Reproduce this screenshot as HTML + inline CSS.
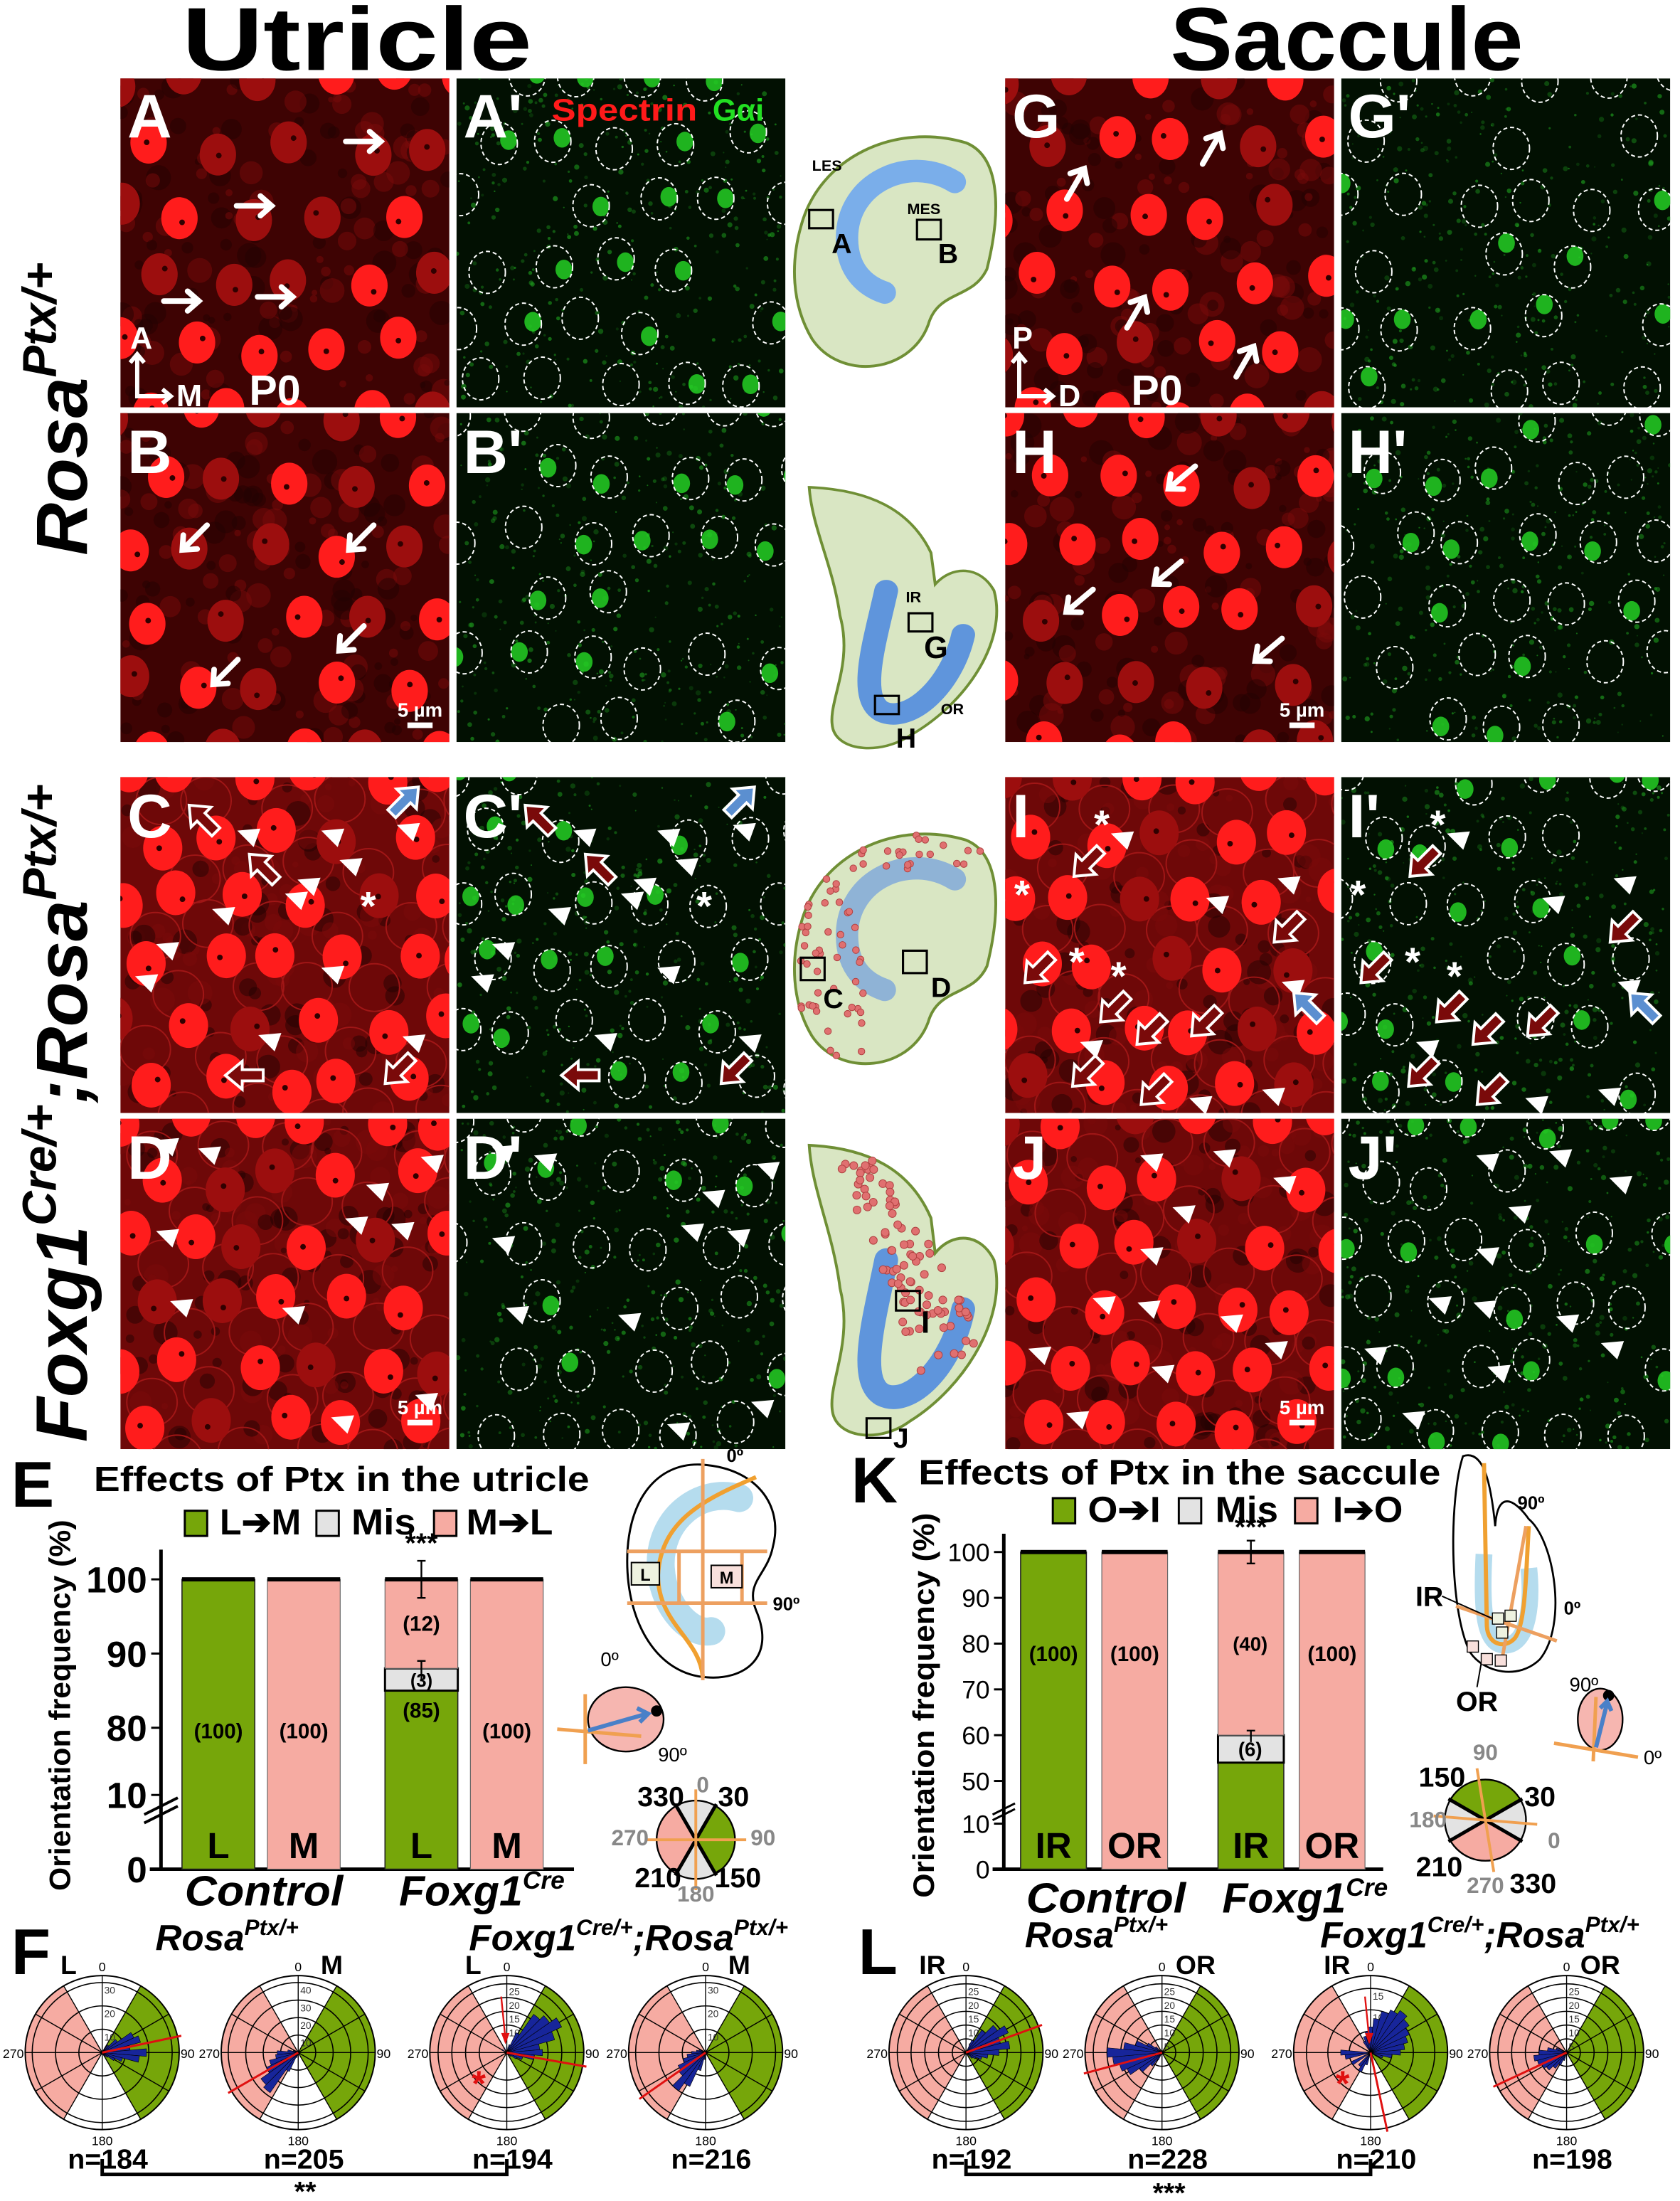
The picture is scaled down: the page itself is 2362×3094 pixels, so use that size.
<!DOCTYPE html>
<html><head><meta charset="utf-8"><title>Ptx figure</title>
<style>
html,body{margin:0;padding:0;background:#fff;}
svg{display:block;}
text{font-family:"Liberation Sans",sans-serif;}
</style></head>
<body>
<svg id="fig" xmlns="http://www.w3.org/2000/svg" width="2362" height="3094" viewBox="0 0 1200 1572" preserveAspectRatio="none">
<rect x="0" y="0" width="1200" height="1572" fill="#fff"/>
<text x="130" y="50" font-size="64" font-weight="bold" textLength="250" lengthAdjust="spacingAndGlyphs">Utricle</text>
<text x="836" y="50" font-size="64" font-weight="bold" textLength="252" lengthAdjust="spacingAndGlyphs">Saccule</text>
<text transform="translate(62,292) rotate(-90)" text-anchor="middle" font-size="52" font-weight="bold" font-style="italic">Rosa<tspan font-size="34" dy="-22">Ptx/+</tspan></text>
<text transform="translate(62,795) rotate(-90)" text-anchor="middle" font-size="52" font-weight="bold" font-style="italic" textLength="470" lengthAdjust="spacingAndGlyphs">Foxg1<tspan font-size="34" dy="-22">Cre/+</tspan><tspan dy="22">;Rosa</tspan><tspan font-size="34" dy="-22">Ptx/+</tspan></text>
<g id="micro"></g>
<g id="schem"></g>
<g id="chartE"></g>
<g id="chartK"></g>
<g id="roses"></g>
</svg>
<script>
// ---------- chart data ----------
const uCats = ['L','M','L','M'];
const uGreen = [100, 0, 85, 0];
const uMis = [0, 0, 3, 0];
const uPink = [0, 100, 12, 100];
const uLabels = ['(100)','(100)','(85)','(100)'];
const uMidLabels = ['', '', '(12)', ''];
const uMisLabels = ['', '', '(3)', ''];
const uTicks = [0, 10, 80, 90, 100];
const sCats = ['IR','OR','IR','OR'];
const sGreen = [100, 0, 54, 0];
const sMis = [0, 0, 6, 0];
const sPink = [0, 100, 40, 100];
const sLabels = ['(100)','(100)','','(100)'];
const sTicks = [0, 10, 50, 60, 70, 80, 90, 100];
// rose plots: bin angles (deg, compass) and counts
const roseU1Bins = [40,50,60,70,80,90,100,110,120,130,140];
const roseU1Counts = [4,8,15,17,12,19,16,9,6,3,2];
const roseU2Bins = [200,210,220,230,240,250,260,270,280,290];
const roseU2Counts = [3,12,28,26,20,17,13,12,6,3];
const roseU3Bins = [0,20,30,40,50,60,70,80,90,100,110,120,130,300,330];
const roseU3Counts = [2,3,8,17,19,22,18,12,13,10,6,4,2,2,2];
const roseU4Bins = [190,200,210,220,230,240,250,260,270,280,290];
const roseU4Counts = [3,8,16,20,14,13,10,8,6,4,3];
const roseS1Bins = [30,40,50,60,70,80,90,100,110,120,130];
const roseS1Counts = [5,10,14,17,13,16,12,8,6,4,3];
const roseS2Bins = [210,220,230,240,250,260,270,280,290,300,310];
const roseS2Counts = [3,6,10,14,16,18,20,14,10,6,3];
const roseS3Bins = [0,10,20,30,40,50,60,70,80,90,100,110,200,210,220,240,260,270,330,340,350];
const roseS3Counts = [6,8,10,11,12,11,10,9,8,7,5,3,3,5,4,5,6,7,3,4,5];
const roseS4Bins = [200,210,220,230,240,250,260,270,280,290];
const roseS4Counts = [3,5,7,9,10,11,12,10,7,4];
const roseMeans = [78, 240, 100, 235, 70, 255, 168, 245];

// ---------- helpers ----------
const NS='http://www.w3.org/2000/svg';
function mk(tag, attrs, parent, name, inter){
  const el=document.createElementNS(NS,tag);
  for(const k in attrs) el.setAttribute(k, attrs[k]);
  
  
  parent.appendChild(el);
  return el;
}
function txt(parent, x, y, s, size, opts, name){
  const a=Object.assign({x:x,y:y,'font-size':size},opts||{});
  const t=mk('text',a,parent,name,false);
  t.textContent=s;
  return t;
}
let seed=12345;
function rnd(){seed=(seed*16807)%2147483647;return seed/2147483647;}

const micro=document.getElementById('micro');
const schem=document.getElementById('schem');
const defs=mk('defs',{},document.getElementById('fig'),'defs',false);

function arrow(g,x,y,ang,col,hollow){
  const gr=mk('g',{transform:'translate('+x+','+y+') rotate('+ang+')'},g,'arrow',false);
  if(hollow){
    mk('path',{d:'M-13,-4 L2,-4 L2,-10 L14,0 L2,10 L2,4 L-13,4 Z',fill:col,stroke:'#fff','stroke-width':2},gr,'arrow-shape',false);
  } else {
    mk('path',{d:'M-14,0 L10,0 M3,-7 L11,0 L3,7',fill:'none',stroke:col,'stroke-width':4,'stroke-linecap':'round'},gr,'arrow-shape',false);
  }
}
function tri(g,x,y,ang){
  mk('path',{d:'M-7,-7 L8,0 L-7,7 Z',fill:'#fff',transform:'translate('+x+','+y+') rotate('+ang+')'},g,'arrowhead',false);
}
function star(g,x,y,col,size){
  txt(g,x,y+size*0.55,'*',size*1.6,{fill:col,'font-weight':'bold','text-anchor':'middle'},'asterisk');
}

let clipId=0;
function panel(x,y,w,h){
  clipId++;
  const cp=mk('clipPath',{id:'c'+clipId},defs,'clip',false);
  mk('rect',{x:x,y:y,width:w,height:h},cp,'clip-rect',false);
  return mk('g',{'clip-path':'url(#c'+clipId+')'},micro,'panel',false);
}
function redPanel(x,y,w,h,mutant,name){
  const g=panel(x,y,w,h);
  
  mk('rect',{x:x,y:y,width:w,height:h,fill:mutant?'#6e0808':'#3e0303'},g,'panel-bg',false);
  for(let i=0;i<160;i++){
    mk('circle',{cx:x+rnd()*w,cy:y+rnd()*h,r:2+rnd()*7,fill:rnd()<0.5?'#7a0a0a':'#220101',opacity:0.5},g,'texture',false);
  }
  const sx=mutant?46:50, sy=mutant?44:48;
  for(let r=0;r*sy<h+sy;r++){
    for(let c=0;c*sx<w+sx;c++){
      const cx=x+c*sx+(r%2)*sx/2+(rnd()-0.5)*16;
      const cy=y+r*sy+(rnd()-0.5)*14;
      if(mutant){
        mk('ellipse',{cx:cx+sx/2,cy:cy+sy/2,rx:18,ry:17,fill:'none',stroke:'#a01616','stroke-width':1},g,'cell-outline',false);
      }
      const dim=rnd()<(mutant?0.2:0.4);
      mk('ellipse',{cx:cx,cy:cy,rx:mutant?14:13,ry:mutant?16:15,fill:dim?'#9c0e0e':'#ff1c1c'},g,'hair-cell',false);
      mk('circle',{cx:cx+(rnd()-0.5)*10,cy:cy+(rnd()-0.5)*10,r:2,fill:'#300000'},g,'kinocilium',false);
    }
  }
  return g;
}
function greenPanel(x,y,w,h,dir,name){
  const g=panel(x,y,w,h);
  
  mk('rect',{x:x,y:y,width:w,height:h,fill:'#021002'},g,'panel-bg',false);
  for(let i=0;i<320;i++){
    mk('circle',{cx:x+rnd()*w,cy:y+rnd()*h,r:0.5+rnd()*1.4,fill:'#1fa01f',opacity:0.2+rnd()*0.45},g,'texture',false);
  }
  const sx=46, sy=44;
  for(let r=0;r*sy<h+sy;r++){
    for(let c=0;c*sx<w+sx;c++){
      if(rnd()<0.2) continue;
      const cx=x+c*sx+(r%2)*sx/2+(rnd()-0.5)*16;
      const cy=y+r*sy+(rnd()-0.5)*14;
      const d=(dir===null)?rnd()*360:dir+(rnd()-0.5)*40;
      const dx=Math.sin(d*Math.PI/180)*7, dy=-Math.cos(d*Math.PI/180)*8;
      if(rnd()<0.6) mk('ellipse',{cx:cx+dx,cy:cy+dy,rx:6,ry:7,fill:'#24d024',opacity:0.85},g,'gai-crescent',false);
      mk('ellipse',{cx:cx,cy:cy,rx:13,ry:15,fill:'none',stroke:'#fff','stroke-width':1,'stroke-dasharray':'3 2'},g,'cell-outline',false);
    }
  }
  return g;
}
function letter(s,x,y){ txt(micro,x,y,s,44,{fill:'#fff','font-weight':'bold'},'panel-letter-'+s.replace("'",'p').toLowerCase()); }
function scalebar(x,y){
  txt(micro,x,y,'5 µm',14,{fill:'#fff','font-weight':'bold','text-anchor':'middle'},'scale-bar-label');
  mk('rect',{x:x-9,y:y+4,width:18,height:4,fill:'#fff'},micro,'scale-bar',false);
}

const LX=86, LGX=326, RX=718, RGX=958, PW=235;
const rows=[[56,235],[295,235],[555,240],[799,236]];
redPanel(LX,rows[0][0],PW,rows[0][1],false,'panel-a');
greenPanel(LGX,rows[0][0],PW,rows[0][1],90,'panel-a-prime');
redPanel(LX,rows[1][0],PW,rows[1][1],false,'panel-b');
greenPanel(LGX,rows[1][0],PW,rows[1][1],250,'panel-b-prime');
redPanel(LX,rows[2][0],PW,rows[2][1],true,'panel-c');
greenPanel(LGX,rows[2][0],PW,rows[2][1],null,'panel-c-prime');
redPanel(LX,rows[3][0],PW,rows[3][1],true,'panel-d');
greenPanel(LGX,rows[3][0],PW,rows[3][1],null,'panel-d-prime');
redPanel(RX,rows[0][0],PW,rows[0][1],false,'panel-g');
greenPanel(RGX,rows[0][0],PW,rows[0][1],20,'panel-g-prime');
redPanel(RX,rows[1][0],PW,rows[1][1],false,'panel-h');
greenPanel(RGX,rows[1][0],PW,rows[1][1],220,'panel-h-prime');
redPanel(RX,rows[2][0],PW,rows[2][1],true,'panel-i');
greenPanel(RGX,rows[2][0],PW,rows[2][1],null,'panel-i-prime');
redPanel(RX,rows[3][0],PW,rows[3][1],true,'panel-j');
greenPanel(RGX,rows[3][0],PW,rows[3][1],180,'panel-j-prime');

[[261,101],[183,147],[131,215],[198,212]].forEach(p=>arrow(micro,p[0],p[1],0,'#fff',false));
[[138,385],[257,385],[160,481],[250,457]].forEach(p=>arrow(micro,p[0],p[1],135,'#fff',false));
[[866,105],[769,130],[812,222],[890,257]].forEach(p=>arrow(micro,p[0],p[1],-60,'#fff',false));
[[843,342],[770,430],[833,410],[905,465]].forEach(p=>arrow(micro,p[0],p[1],140,'#fff',false));
const cHeads=[[177,596],[237,596],[291,592],[250,617],[220,631],[211,641],[159,652],[119,677],[104,700],[237,694],[192,742],[295,743]];
cHeads.forEach(p=>{tri(micro,p[0],p[1],200);tri(micro,p[0]+240,p[1],200);});
[[145,585,-135],[188,620,-135],[175,768,180],[285,764,135]].forEach(p=>{arrow(micro,p[0],p[1],p[2],'#7a0a0a',true);arrow(micro,p[0]+240,p[1],p[2],'#7a0a0a',true);});
arrow(micro,289,572,-45,'#5b8fd0',true); arrow(micro,529,572,-45,'#5b8fd0',true);
star(micro,263,647,'#fff',18); star(micro,503,647,'#fff',18);
const dHeads=[[119,817],[149,823],[119,882],[269,849],[254,873],[287,877],[308,829],[129,932],[209,937],[244,1015],[304,999]];
dHeads.forEach(p=>{tri(micro,p[0],p[1],200);tri(micro,p[0]+240,p[1]+5,200);});
const iHeads=[[801,598],[920,630],[869,644],[923,704],[779,747],[857,787],[909,781]];
iHeads.forEach(p=>{tri(micro,p[0],p[1],200);tri(micro,p[0]+240,p[1],200);});
[[777,616],[920,663],[742,692],[796,720],[822,736],[861,730],[776,766],[825,779]].forEach(p=>{arrow(micro,p[0],p[1],135,'#7a0a0a',true);arrow(micro,p[0]+240,p[1],135,'#7a0a0a',true);});
arrow(micro,934,719,-135,'#5b8fd0',true); arrow(micro,1174,719,-135,'#5b8fd0',true);
[[787,589],[730,639],[769,687],[799,697]].forEach(p=>{star(micro,p[0],p[1],'#fff',18);star(micro,p[0]+240,p[1],'#fff',18);});
const jHeads=[[822,828],[874,825],[917,844],[845,865],[822,895],[788,930],[820,933],[879,943],[911,962],[742,966],[830,979],[769,1012]];
jHeads.forEach(p=>{tri(micro,p[0],p[1],200);tri(micro,p[0]+240,p[1],200);});

letter('A',91,98); letter("A'",331,98); letter('B',91,338); letter("B'",331,338);
letter('C',91,598); letter("C'",331,598); letter('D',91,842); letter("D'",331,842);
letter('G',723,98); letter("G'",963,98); letter('H',723,338); letter("H'",963,338);
letter('I',723,598); letter("I'",963,598); letter('J',723,842); letter("J'",963,842);
txt(micro,394,86,'Spectrin',22,{fill:'#ff1a1a','font-weight':'bold',textLength:104,lengthAdjust:'spacingAndGlyphs'},'legend-spectrin');
txt(micro,509,86,'Gαi',22,{fill:'#22e022','font-weight':'bold'},'legend-gai');
function axes(x,y,a,b){
  mk('path',{d:'M'+x+','+(y-30)+' L'+x+','+y+' L'+(x+24)+','+y+' M'+(x-5)+','+(y-24)+' L'+x+','+(y-30)+' L'+(x+5)+','+(y-24)+' M'+(x+18)+','+(y-5)+' L'+(x+24)+','+y+' L'+(x+18)+','+(y+5),fill:'none',stroke:'#fff','stroke-width':3},micro,'orientation-axes',false);
  txt(micro,x-5,y-34,a,22,{fill:'#fff','font-weight':'bold'},'axis-letter');
  txt(micro,x+28,y+7,b,22,{fill:'#fff','font-weight':'bold'},'axis-letter');
}
axes(98,283,'A','M'); txt(micro,178,289,'P0',30,{fill:'#fff','font-weight':'bold'},'age-label');
axes(728,283,'P','D'); txt(micro,808,289,'P0',30,{fill:'#fff','font-weight':'bold'},'age-label');
scalebar(300,512); scalebar(300,1010); scalebar(930,512); scalebar(930,1010);
[[LX,291,PW*2+5,4],[RX,291,PW*2+5,4],[LX,795,PW*2+5,4],[RX,795,PW*2+5,4]].forEach(r=>mk('rect',{x:r[0],y:r[1],width:r[2],height:r[3],fill:'#fff'},micro,'separator',false));
[[LX+PW,56,5,980],[RX+PW,56,5,980]].forEach(r=>mk('rect',{x:r[0],y:r[1],width:r[2],height:r[3],fill:'#fff'},micro,'separator',false));

// ---------- schematics ----------
const utrPath='M572,660 C585,610 640,585 690,600 C715,610 715,650 705,690 C695,712 670,705 663,730 C650,765 600,770 580,740 C565,715 565,685 572,660 Z';
const sacPath='M578,818 C620,820 650,835 665,870 L668,895 C680,880 700,880 710,900 C720,940 690,990 650,1015 C630,1030 600,1028 595,1010 C590,990 610,960 600,920 C595,880 580,850 578,818 Z';
function utr(dy,blue,name){
  const g=mk('g',{transform:'translate(0,'+dy+')'},schem,name,false);
  const p=mk('path',{d:utrPath,fill:'#d9e6c3',stroke:'#6f8f35','stroke-width':2},g,'utricle-outline',false);
  mk('path',{d:'M682,628 C650,608 605,628 605,668 C605,693 620,703 632,707',fill:'none',stroke:blue,'stroke-width':16,'stroke-linecap':'round'},g,'striola',false);
  g._outline=p;
  return g;
}
function sac(dy,sy,name){
  const g=mk('g',{transform:'translate(0,'+dy+') translate(0,818) scale(1,'+sy+') translate(0,-818)'},schem,name,false);
  const p=mk('path',{d:sacPath,fill:'#d9e6c3',stroke:'#6f8f35','stroke-width':2},g,'saccule-outline',false);
  mk('path',{d:'M633,900 C625,940 612,985 630,996 C650,1006 680,975 688,935',fill:'none',stroke:'#5f95dc','stroke-width':17,'stroke-linecap':'round'},g,'striola',false);
  g._outline=p;
  return g;
}
function box(x,y,w,h){mk('rect',{x:x,y:y,width:w,height:h,fill:'none',stroke:'#000','stroke-width':1.6},schem,'region-box',false);}
function lab(x,y,s,sz){txt(schem,x,y,s,sz,{'font-weight':'bold'},'region-label');}
function inside(path,x,y){
  try{ const pt=document.getElementById('fig').createSVGPoint(); pt.x=x; pt.y=y; return path.isPointInFill(pt); }catch(e){ return true; }
}
utr(-498,'#7aaeea','utricle-schematic');
lab(580,122,'LES',11); box(578,150,17,13); lab(594,181,'A',20); lab(648,153,'MES',11); box(655,157,17,14); lab(670,188,'B',20);
sac(-470,0.9,'saccule-schematic');
lab(647,430,'IR',11); box(649,438,17,13); lab(660,470,'G',22); box(625,497,17,13); lab(640,534,'H',20); lab(672,510,'OR',11);
const g3=utr(0,'#8fb3d6','utricle-mutant-schematic');
let placed=0, tries=0;
while(placed<70 && tries<2000){
  tries++;
  const t=rnd();
  const px=(t<0.35)?575+rnd()*130:572+Math.pow(rnd(),1.5)*45;
  const py=(t<0.35)?596+rnd()*25:615+rnd()*150;
  if(!inside(g3._outline,px,py)) continue;
  placed++;
  mk('circle',{cx:px,cy:py,r:2.4,fill:'#e07070',stroke:'#b04040','stroke-width':0.5},g3,'ectopic-cell',false);
}
box(572,684,17,16); lab(588,720,'C',20); box(645,679,17,16); lab(665,712,'D',20);
const g4=sac(0,1,'saccule-mutant-schematic');
placed=0; tries=0;
while(placed<90 && tries<3000){
  tries++;
  const py=822+rnd()*160; const base=595+(py-822)*0.4; const px=base+rnd()*(25+(py-822)*0.25);
  if(!inside(g4._outline,px,py)) continue;
  placed++;
  mk('circle',{cx:px,cy:py,r:2.8,fill:'#e07070',stroke:'#b04040','stroke-width':0.5},g4,'ectopic-cell',false);
}
box(640,922,17,14); lab(658,952,'I',22); box(619,1013,17,14); lab(638,1034,'J',20);

// ---------- bar charts ----------
function barChart(gid, cats, green, mis, pink, labels, ticks, yf, xs, bw, axisX, axisRight, tickFont, tickBold){
  const g=document.getElementById(gid);
  mk('line',{x1:axisX,y1:yf(104),x2:axisX,y2:yf(0),stroke:'#000','stroke-width':2.5},g,'y-axis',false);
  mk('line',{x1:axisX-8,y1:yf(0),x2:axisRight,y2:yf(0),stroke:'#000','stroke-width':2.5},g,'x-axis',false);
  ticks.forEach(t=>{
    mk('line',{x1:axisX-7,y1:yf(t),x2:axisX,y2:yf(t),stroke:'#000','stroke-width':1.5},g,'y-tick',false);
    txt(g,axisX-10,yf(t)+tickFont*0.36,String(t),tickFont,{'text-anchor':'end','font-weight':tickBold?'bold':'normal'},'y-tick-label');
  });
  cats.forEach((c,i)=>{
    const x=xs(i);
    const g1=green[i], m1=mis[i], p1=pink[i];
    if(g1>0) mk('rect',{x:x,y:yf(g1),width:bw,height:yf(0)-yf(g1),fill:'#76a60a',stroke:'#222','stroke-width':0.8},g,'bar-green-'+i,false);
    if(m1>0) mk('rect',{x:x,y:yf(g1+m1),width:bw,height:yf(g1)-yf(g1+m1),fill:'#e3e3e3',stroke:'#000','stroke-width':1.5},g,'bar-mis-'+i,false);
    if(p1>0) mk('rect',{x:x,y:yf(g1+m1+p1),width:bw,height:yf(g1+m1)-yf(g1+m1+p1),fill:'#f6aba2',stroke:'#666','stroke-width':0.6},g,'bar-pink-'+i,false);
    mk('rect',{x:x,y:yf(100)-1.5,width:bw,height:3,fill:'#000'},g,'bar-top-'+i,false);
    txt(g,x+bw/2,yf(0)-8,c,26,{'text-anchor':'middle','font-weight':'bold'},'bar-category-'+i);
    if(labels[i]) txt(g,x+bw/2,yf(m1>0?g1/2+40:78)+6,labels[i],15,{'text-anchor':'middle','font-weight':'bold'},'bar-value-'+i);
    if(m1>0){
      mk('path',{d:'M'+(x+bw/2)+','+yf(g1+m1+1)+' L'+(x+bw/2)+','+yf(g1+m1-1.5)+' M'+(x+bw/2-3)+','+yf(g1+m1+1)+' L'+(x+bw/2+3)+','+yf(g1+m1+1),stroke:'#000','stroke-width':1.2},g,'error-bar',false);
      mk('path',{d:'M'+(x+bw/2)+','+yf(102.5)+' L'+(x+bw/2)+','+yf(97.5)+' M'+(x+bw/2-3)+','+yf(102.5)+' L'+(x+bw/2+3)+','+yf(102.5)+' M'+(x+bw/2-3)+','+yf(97.5)+' L'+(x+bw/2+3)+','+yf(97.5),stroke:'#000','stroke-width':1.2},g,'error-bar',false);
      txt(g,x+bw/2,yf(104)+2,'***',20,{'text-anchor':'middle','font-weight':'bold'},'significance');
    }
  });
  return g;
}
function yU(v){ if(v<=10) return 1335-v*5.3; if(v>=80) return 1234-(v-80)*5.3; return 1282-(v-10)/70*48; }
function yS(v){ if(v<=10) return 1335-v*3.25; if(v>=50) return 1272-(v-50)*3.27; return 1302.5-(v-10)/40*30.5; }
const gE=barChart('chartE',uCats,uGreen,uMis,uPink,uLabels,uTicks,yU,i=>130+i*61+(i>=2?23:0),52,115,410,26,true);
uMidLabels.forEach((s,i)=>{ if(s) txt(gE,130+i*61+(i>=2?23:0)+26,yU(94)+5,s,15,{'text-anchor':'middle','font-weight':'bold'},'bar-pink-value'); });
uMisLabels.forEach((s,i)=>{ if(s) txt(gE,130+i*61+(i>=2?23:0)+26,yU(86.5)+5,s,13,{'text-anchor':'middle','font-weight':'bold'},'bar-mis-value'); });
mk('path',{d:'M103,1296 L127,1284 M103,1302 L127,1290',stroke:'#000','stroke-width':2},gE,'axis-break',false);
const gK=barChart('chartK',sCats,sGreen,sMis,sPink,sLabels,sTicks,yS,i=>729+i*58+(i>=2?25:0),47,717,988,18,false);
txt(gK,893,yS(57)+5,'(6)',14,{'text-anchor':'middle','font-weight':'bold'},'bar-mis-value');
txt(gK,893,yS(80)+5,'(40)',14,{'text-anchor':'middle','font-weight':'bold'},'bar-pink-value');
mk('path',{d:'M709,1296 L725,1288 M709,1300 L725,1292',stroke:'#000','stroke-width':1.5},gK,'axis-break',false);
txt(gE,8,1076,'E',46,{'font-weight':'bold'},'panel-letter-e');
txt(gE,67,1065,'Effects of Ptx in the utricle',25,{'font-weight':'bold',textLength:354,lengthAdjust:'spacingAndGlyphs'},'chart-title');
function legend(g,items,y){
  items.forEach(it=>{
    mk('rect',{x:it[0],y:y-17,width:16,height:18,fill:it[1],stroke:'#000','stroke-width':1.5},g,'legend-swatch',false);
    txt(g,it[2],y,it[3],26,{'font-weight':'bold',textLength:it[4],lengthAdjust:'spacingAndGlyphs'},'legend-entry');
  });
}
legend(gE,[[132,'#76a60a',157,'L➔M',58],[226,'#e3e3e3',251,'Mis',46],[310,'#f6aba2',333,'M➔L',62]],1096);
txt(gE,0,0,'Orientation frequency (%)',21,{'font-weight':'bold','text-anchor':'middle',transform:'translate(50,1218) rotate(-90)',textLength:265,lengthAdjust:'spacingAndGlyphs'},'y-axis-title');
txt(gE,132,1361,'Control',30,{'font-weight':'bold','font-style':'italic',textLength:113,lengthAdjust:'spacingAndGlyphs'},'group-label-control');
const fx=txt(gE,285,1361,'Foxg1',30,{'font-weight':'bold','font-style':'italic'},'group-label-foxg1');
const sup1=mk('tspan',{'font-size':18,dy:-12},fx,'superscript',false); sup1.textContent='Cre';

txt(gK,608,1073,'K',46,{'font-weight':'bold'},'panel-letter-k');
txt(gK,656,1060,'Effects of Ptx in the saccule',25,{'font-weight':'bold',textLength:373,lengthAdjust:'spacingAndGlyphs'},'chart-title');
legend(gK,[[752,'#76a60a',777,'O➔I',52],[842,'#e3e3e3',868,'Mis',45],[925,'#f6aba2',952,'I➔O',50]],1087);
txt(gK,0,0,'Orientation frequency (%)',21,{'font-weight':'bold','text-anchor':'middle',transform:'translate(667,1218) rotate(-90)',textLength:275,lengthAdjust:'spacingAndGlyphs'},'y-axis-title');
txt(gK,733,1366,'Control',30,{'font-weight':'bold','font-style':'italic',textLength:114,lengthAdjust:'spacingAndGlyphs'},'group-label-control');
const fx2=txt(gK,873,1366,'Foxg1',30,{'font-weight':'bold','font-style':'italic'},'group-label-foxg1');
const sup2=mk('tspan',{'font-size':18,dy:-12},fx2,'superscript',false); sup2.textContent='Cre';

// utricle schematic (E)
mk('path',{d:'M500,1046 C540,1048 560,1075 552,1105 C548,1125 532,1130 540,1150 C555,1185 530,1200 505,1198 C470,1196 448,1160 448,1115 C448,1070 470,1045 500,1046 Z',fill:'#fff',stroke:'#000','stroke-width':1.5},gE,'utricle-diagram',false);
mk('path',{d:'M528,1070 C500,1062 470,1085 472,1120 C474,1150 495,1168 508,1165',fill:'none',stroke:'#b5dcee','stroke-width':20,'stroke-linecap':'round'},gE,'striola',false);
mk('path',{d:'M540,1055 C505,1070 472,1085 470,1125 C470,1160 500,1170 502,1198',fill:'none',stroke:'#f0a030','stroke-width':3},gE,'reversal-line',false);
mk('path',{d:'M502,1042 L502,1200 M448,1108 L548,1108 M448,1145 L548,1145 M485,1108 L485,1145 M530,1108 L530,1145',stroke:'#eda060','stroke-width':2.5,fill:'none'},gE,'orange-grid',false);
mk('rect',{x:451,y:1116,width:20,height:16,fill:'#eef2e0',stroke:'#000'},gE,'l-box',false);
txt(gE,461,1129,'L',12,{'text-anchor':'middle','font-weight':'bold'},'l-label');
mk('rect',{x:508,y:1118,width:22,height:16,fill:'#f8e0dc',stroke:'#000'},gE,'m-box',false);
txt(gE,519,1131,'M',12,{'text-anchor':'middle','font-weight':'bold'},'m-label');
txt(gE,519,1044,'0º',13,{'font-weight':'bold'},'angle-label'); txt(gE,552,1150,'90º',13,{'font-weight':'bold'},'angle-label');
mk('ellipse',{cx:447,cy:1228,rx:27,ry:23,fill:'#f6b6b0',stroke:'#000','stroke-width':1.2},gE,'cell-diagram',false);
mk('circle',{cx:469,cy:1222,r:4,fill:'#000'},gE,'kinocilium-dot',false);
mk('path',{d:'M418,1210 L418,1260 M398,1235 L458,1240',stroke:'#f0a050','stroke-width':2.5},gE,'cell-axes',false);
mk('path',{d:'M420,1236 L462,1224 M455,1220 L463,1224 L457,1230',stroke:'#4a80c8','stroke-width':3,fill:'none'},gE,'polarity-arrow',false);
txt(gE,429,1190,'0º',14,{},'angle-label'); txt(gE,470,1258,'90º',14,{},'angle-label');
function sector(g,cx,cy,r,a1,a2,fill,math){
  function pt(a){const t=a*Math.PI/180; return math?[cx+r*Math.cos(t),cy-r*Math.sin(t)]:[cx+r*Math.sin(t),cy-r*Math.cos(t)];}
  const p1=pt(a1),p2=pt(a2); const large=((a2-a1+360)%360)>180?1:0;
  const sweep=math?0:1;
  mk('path',{d:'M'+cx+','+cy+' L'+p1[0]+','+p1[1]+' A'+r+','+r+' 0 '+large+' '+sweep+' '+p2[0]+','+p2[1]+' Z',fill:fill,stroke:'none'},g,'sector',false);
}
function pie(g,cx,cy,r,math,labels){
  sector(g,cx,cy,r,30,150,'#76a60a',math); sector(g,cx,cy,r,150,210,'#e3e3e3',math);
  sector(g,cx,cy,r,210,330,'#f6aba2',math); sector(g,cx,cy,r,330,390,'#e3e3e3',math);
  mk('circle',{cx:cx,cy:cy,r:r,fill:'none',stroke:'#000','stroke-width':1.2},g,'pie-outline',false);
  [30,150].forEach(a=>{const t=a*Math.PI/180;
    const dx=math?Math.cos(t)*r*1.05:Math.sin(t)*r*1.05, dy=math?-Math.sin(t)*r*1.05:-Math.cos(t)*r*1.05;
    mk('line',{x1:cx-dx,y1:cy-dy,x2:cx+dx,y2:cy+dy,stroke:'#000','stroke-width':2.5},g,'pie-divider',false);});
  mk('line',{x1:cx+(math?-6:0),y1:cy-r-8,x2:cx+(math?6:0),y2:cy+r+8,stroke:'#f0a050','stroke-width':2},g,'pie-axis',false);
  mk('line',{x1:cx-r-8,y1:cy+(math?-3:0),x2:cx+r+8,y2:cy+(math?3:0),stroke:'#f0a050','stroke-width':2},g,'pie-axis',false);
  labels.forEach(l=>txt(g,l[0],l[1],l[2],l[3]?16:20,{'font-weight':'bold',fill:l[3]?'#888':'#000','text-anchor':'middle'},'pie-label'));
}
pie(gE,497,1314,28,false,[[472,1290,'330'],[502,1280,'0',1],[524,1290,'30'],[450,1318,'270',1],[545,1318,'90',1],[470,1348,'210'],[497,1358,'180',1],[527,1348,'150']]);
pie(gK,1061,1300,29,true,[[1061,1257,'90',1],[1030,1276,'150'],[1100,1290,'30'],[1020,1305,'180',1],[1110,1320,'0',1],[1028,1340,'210'],[1095,1352,'330'],[1061,1352,'270',1]]);
// saccule schematic (K)
mk('path',{d:'M1045,1040 C1060,1035 1065,1060 1068,1090 C1070,1060 1085,1075 1092,1085 C1110,1100 1120,1160 1100,1185 C1085,1200 1060,1195 1050,1180 C1035,1150 1035,1070 1045,1040 Z',fill:'#fff',stroke:'#000','stroke-width':1.4},gK,'saccule-diagram',false);
mk('path',{d:'M1060,1110 C1058,1150 1060,1175 1075,1175 C1090,1175 1095,1150 1092,1120',fill:'none',stroke:'#b5dcee','stroke-width':12},gK,'striola',false);
mk('path',{d:'M1060,1045 L1062,1160 C1062,1175 1075,1178 1082,1170 C1090,1160 1090,1120 1092,1090',fill:'none',stroke:'#f0a030','stroke-width':3},gK,'reversal-line',false);
mk('path',{d:'M1040,1147 L1112,1172 M1090,1090 L1072,1190',stroke:'#eda060','stroke-width':2.5},gK,'orange-axes',false);
[[1066,1152],[1075,1150],[1069,1162],[1048,1172],[1058,1181],[1068,1182]].forEach((p,i)=>mk('rect',{x:p[0],y:p[1],width:8,height:8,fill:i<3?'#eef2e0':'#f8e0dc',stroke:'#000','stroke-width':0.7},gK,'region-box',false));
txt(gK,1011,1147,'IR',20,{'font-weight':'bold'},'ir-label'); txt(gK,1040,1222,'OR',20,{'font-weight':'bold'},'or-label');
mk('path',{d:'M1030,1140 L1066,1156 M1058,1188 L1055,1205',stroke:'#000','stroke-width':1},gK,'pointer',false);
txt(gK,1084,1078,'90º',13,{'font-weight':'bold'},'angle-label'); txt(gK,1117,1153,'0º',13,{'font-weight':'bold'},'angle-label');
mk('ellipse',{cx:1143,cy:1228,rx:16,ry:22,fill:'#f6b6b0',stroke:'#000','stroke-width':1.2},gK,'cell-diagram',false);
mk('circle',{cx:1149,cy:1211,r:4,fill:'#000'},gK,'kinocilium-dot',false);
mk('path',{d:'M1140,1212 L1138,1258 M1110,1245 L1170,1255',stroke:'#f0a050','stroke-width':2.5},gK,'cell-axes',false);
mk('path',{d:'M1140,1248 L1148,1216 M1143,1220 L1148,1215 L1151,1222',stroke:'#4a80c8','stroke-width':3,fill:'none'},gK,'polarity-arrow',false);
txt(gK,1121,1208,'90º',14,{},'angle-label'); txt(gK,1174,1260,'0º',14,{},'angle-label');

// ---------- rose plots ----------
const roses=document.getElementById('roses');
const roseSets=[
 [73,roseU1Bins,roseU1Counts,33,[10,20,30],'L',0,'n=184'],
 [213,roseU2Bins,roseU2Counts,44,[10,20,30,40],'M',1,'n=205'],
 [362,roseU3Bins,roseU3Counts,28,[10,15,20,25],'L',0,'n=194'],
 [504,roseU4Bins,roseU4Counts,33,[10,20,30],'M',1,'n=216'],
 [690,roseS1Bins,roseS1Counts,28,[5,10,15,20,25],'IR',0,'n=192'],
 [830,roseS2Bins,roseS2Counts,28,[5,10,15,20,25],'OR',1,'n=228'],
 [979,roseS3Bins,roseS3Counts,18,[5,10,15],'IR',0,'n=210'],
 [1119,roseS4Bins,roseS4Counts,28,[5,10,15,20,25],'OR',1,'n=198']
];
const RCY=1466, RR=55;
roseSets.forEach((rs,k)=>{
  const cx=rs[0], bins=rs[1], counts=rs[2], maxV=rs[3], rings=rs[4];
  const g=mk('g',{},roses,'rose-plot-'+(k+1),false);
  mk('circle',{cx:cx,cy:RCY,r:RR,fill:'#fff'},g,'rose-bg',false);
  sector(g,cx,RCY,RR,30,150,'#76a60a',false);
  sector(g,cx,RCY,RR,210,330,'#f6aba2',false);
  rings.forEach(v=>{
    mk('circle',{cx:cx,cy:RCY,r:RR*v/maxV,fill:'none',stroke:'#000','stroke-width':0.8},g,'rose-ring',false);
    txt(g,cx+1.5,RCY-RR*v/maxV+8,String(v),7,{fill:'#333'},'rose-ring-label');
  });
  mk('circle',{cx:cx,cy:RCY,r:RR,fill:'none',stroke:'#000','stroke-width':1},g,'rose-outline',false);
  [0,30,60,90,120,150].forEach(a=>{const t=a*Math.PI/180;
    mk('line',{x1:cx-RR*Math.sin(t),y1:RCY+RR*Math.cos(t),x2:cx+RR*Math.sin(t),y2:RCY-RR*Math.cos(t),stroke:'#000','stroke-width':0.7},g,'rose-spoke',false);});
  bins.forEach((b,i)=>{
    const r=RR*Math.min(counts[i],maxV)/maxV;
    const a1=(b-5)*Math.PI/180, a2=(b+5)*Math.PI/180;
    mk('path',{d:'M'+cx+','+RCY+' L'+(cx+r*Math.sin(a1))+','+(RCY-r*Math.cos(a1))+' A'+r+','+r+' 0 0 1 '+(cx+r*Math.sin(a2))+','+(RCY-r*Math.cos(a2))+' Z',fill:'#17259a',stroke:'#000','stroke-width':0.3},g,'rose-bar',false);
  });
  const m=roseMeans[k]*Math.PI/180;
  mk('line',{x1:cx,y1:RCY,x2:cx+RR*1.05*Math.sin(m),y2:RCY-RR*1.05*Math.cos(m),stroke:'#e01010','stroke-width':1.5},g,'mean-vector',false);
  txt(g,cx,RCY-RR-3,'0',9,{'text-anchor':'middle'},'angle-label');
  txt(g,cx,RCY+RR+11,'180',9,{'text-anchor':'middle'},'angle-label');
  txt(g,cx-RR-1,RCY+4,'270',9,{'text-anchor':'end'},'angle-label');
  txt(g,cx+RR+1,RCY+4,'90',9,{},'angle-label');
  txt(g,cx+(rs[6]?24:-24),RCY-RR-1,rs[5],19,{'text-anchor':'middle','font-weight':'bold'},'region-label');
  txt(g,cx+4,RCY+RR+28,rs[7],20,{'text-anchor':'middle','font-weight':'bold'},'n-label');
  if(k===2||k===6){
    mk('path',{d:'M'+(cx-4)+','+(RCY-40)+' L'+(cx-1)+','+(RCY-10),stroke:'#e01010','stroke-width':1.2},g,'red-arrow',false);
    mk('path',{d:'M'+(cx-4)+','+(RCY-14)+' L'+(cx-1)+','+(RCY-6)+' L'+(cx+2)+','+(RCY-14)+' Z',fill:'#e01010'},g,'red-arrowhead',false);
    star(g,cx-20,RCY+22,'#e01010',16);
  }
});
txt(roses,8,1410,'F',46,{'font-weight':'bold'},'panel-letter-f');
txt(roses,613,1410,'L',46,{'font-weight':'bold'},'panel-letter-l');
function title(x,y,parts,name){
  const t=txt(roses,x,y,'',26,{'font-weight':'bold','font-style':'italic'},name);
  parts.forEach(p=>{const s=mk('tspan',{'font-size':p[1]?16:26,dy:p[1]?-11:(p[2]||0)},t,'title-part',false); s.textContent=p[0];});
}
title(111,1393,[['Rosa'],['Ptx/+',1]],'rose-title-control');
title(335,1393,[['Foxg1'],['Cre/+',1],[';Rosa',0,11],['Ptx/+',1]],'rose-title-mutant');
title(732,1391,[['Rosa'],['Ptx/+',1]],'rose-title-control-saccule');
title(943,1391,[['Foxg1'],['Cre/+',1],[';Rosa',0,11],['Ptx/+',1]],'rose-title-mutant-saccule');
mk('path',{d:'M73,1542 L73,1553 L362,1553 L362,1542',fill:'none',stroke:'#000','stroke-width':2.5},roses,'significance-bracket',false);
txt(roses,218,1572,'**',20,{'text-anchor':'middle','font-weight':'bold'},'significance');
mk('path',{d:'M690,1542 L690,1553 L979,1553 L979,1542',fill:'none',stroke:'#000','stroke-width':2.5},roses,'significance-bracket',false);
txt(roses,835,1573,'***',20,{'text-anchor':'middle','font-weight':'bold'},'significance');
</script>
</body></html>
